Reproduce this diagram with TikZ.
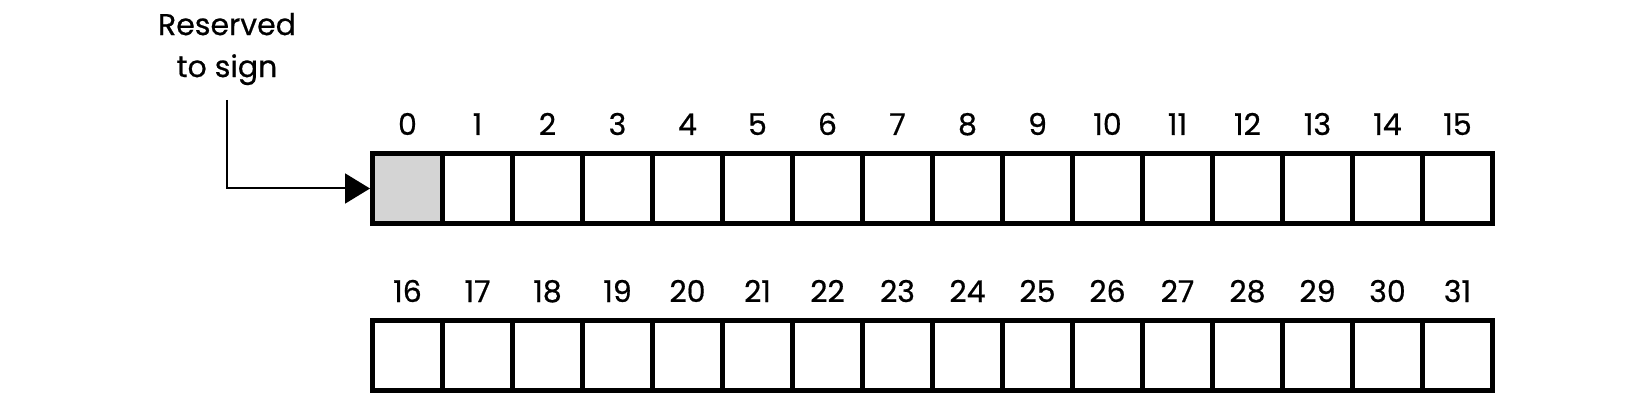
\documentclass[tikz,border=0pt]{standalone}
\usepackage{fontspec}
\setmainfont{Poppins}
\newfontfamily\medfont{Poppins}[FakeBold=0.6]
\usetikzlibrary{arrows.meta}
\begin{document}
\begin{tikzpicture}[x=1pt,y=-1pt,
  cell/.style={draw=black,line width=5.5pt,minimum width=70pt,minimum height=70pt,inner sep=0pt,outer sep=0pt,fill=white},
  signcell/.style={cell,fill=black!17},
  idx/.style={font=\medfont\fontsize{30}{32}\selectfont,anchor=base,inner sep=0pt},
  lbl/.style={font=\medfont\fontsize{30}{42}\selectfont,align=center,inner sep=0pt},
  arr/.style={line width=2pt,-{Triangle[length=25pt,width=30pt]}}]
\useasboundingbox (0,0) rectangle (1650,401);
\foreach \i in {0,...,15}{
  \pgfmathsetmacro\cx{372.5+70*\i+35}
  \ifnum\i=0
    \node[signcell] (c\i) at (\cx,188.5) {};
  \else
    \node[cell] (c\i) at (\cx,188.5) {};
  \fi
  \node[idx] (n\i) at (\cx,135) {\i};
}
\foreach \i in {16,...,31}{
  \pgfmathsetmacro\cx{372.5+70*(\i-16)+35}
  \node[cell] (c\i) at (\cx,355.5) {};
  \node[idx] (n\i) at (\cx,302) {\i};
}
% redraw borders on top so shared edges look uniform
\foreach \i in {0,...,31}{
  \draw[line width=5.5pt] (c\i.north west) rectangle (c\i.south east);
}
\node[lbl] (res) at (227,49) {Reserved\\to sign};
\coordinate (top) at (227,100);
\draw[arr,shorten >=2.5pt] (top) |- (c0.west);
\end{tikzpicture}
\end{document}
